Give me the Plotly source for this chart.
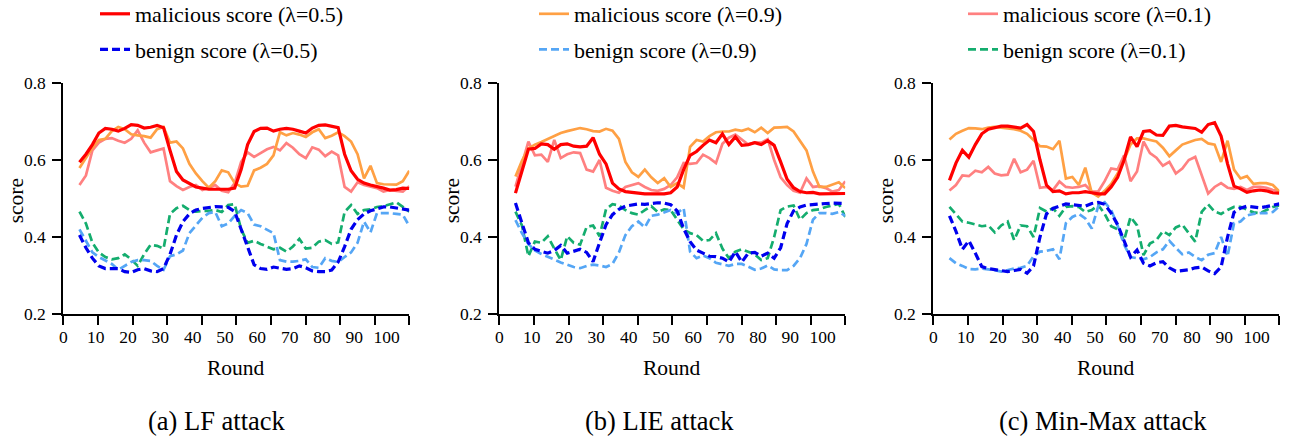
import plotly.graph_objects as go

rounds = list(range(5, 108, 2))  # 52 rounds

# ---------------- (a) LF attack ----------------
a_mal_05 = [.594, .615, .640, .670, .682, .680, .675, .682, .692, .690, .683, .685, .690, .684, .625, .570,
            .548, .540, .530, .527, .524, .524, .523, .524, .527, .575, .640, .674, .682, .683, .675, .680,
            .682, .680, .675, .670, .683, .690, .691, .688, .684, .615, .572, .550, .540, .535, .532, .527,
            .522, .523, .527, .526]
a_mal_09 = [.579, .605, .632, .652, .655, .675, .686, .680, .667, .664, .662, .658, .680, .686, .645, .648,
            .630, .590, .565, .545, .528, .545, .573, .568, .540, .531, .533, .573, .580, .590, .612, .672,
            .664, .670, .666, .660, .672, .680, .657, .663, .672, .662, .648, .615, .552, .585, .540, .537,
            .537, .536, .545, .572]
a_mal_01 = [.535, .560, .625, .645, .655, .657, .650, .645, .655, .677, .645, .620, .625, .630, .545, .532,
            .522, .530, .535, .522, .528, .535, .520, .516, .540, .595, .620, .608, .618, .628, .634, .625,
            .644, .632, .615, .605, .633, .627, .610, .622, .612, .530, .518, .542, .535, .530, .527, .518,
            .522, .520, .518, .532]
a_ben_05 = [.405, .372, .345, .325, .318, .318, .318, .310, .308, .315, .318, .312, .310, .318, .355, .405,
            .440, .460, .470, .474, .476, .479, .478, .477, .466, .420, .370, .328, .318, .316, .322, .320,
            .316, .318, .325, .320, .312, .310, .310, .314, .335, .375, .420, .445, .460, .468, .474, .478,
            .478, .475, .472, .470]
a_ben_09 = [.420, .390, .360, .348, .340, .330, .315, .325, .335, .340, .340, .338, .325, .315, .350, .355,
            .365, .410, .430, .450, .462, .465, .428, .435, .455, .470, .462, .432, .428, .420, .410, .340,
            .336, .336, .338, .342, .322, .320, .345, .338, .335, .348, .360, .385, .440, .412, .462, .462,
            .462, .460, .458, .428]
a_ben_01 = [.466, .435, .385, .360, .348, .342, .345, .355, .342, .325, .355, .380, .377, .370, .460, .475,
            .481, .470, .466, .468, .468, .470, .465, .483, .485, .420, .385, .390, .382, .375, .368, .372,
            .362, .375, .395, .370, .372, .388, .392, .382, .386, .465, .483, .460, .470, .472, .478, .480,
            .486, .490, .478, .466]

# ---------------- (b) LIE attack ----------------
b_mal_05 = [.514, .570, .628, .630, .642, .640, .628, .640, .642, .636, .634, .636, .658, .615, .590, .540,
            .525, .518, .515, .514, .512, .511, .512, .512, .515, .530, .575, .612, .622, .638, .652, .645,
            .668, .640, .660, .638, .640, .645, .640, .650, .638, .595, .550, .528, .518, .515, .516, .512,
            .512, .514, .514, .513]
b_mal_09 = [.557, .598, .630, .640, .647, .655, .662, .670, .675, .679, .683, .680, .675, .674, .681, .676,
            .655, .595, .568, .556, .575, .555, .540, .553, .530, .540, .528, .634, .652, .648, .662, .672,
            .674, .674, .679, .676, .681, .672, .684, .670, .684, .685, .686, .674, .650, .625, .570, .530,
            .530, .537, .542, .527]
b_mal_01 = [.531, .590, .648, .612, .614, .595, .652, .605, .615, .620, .618, .575, .570, .600, .528, .520,
            .515, .530, .535, .540, .530, .522, .520, .525, .535, .555, .592, .590, .592, .614, .605, .592,
            .642, .658, .666, .652, .640, .646, .645, .654, .600, .555, .535, .520, .515, .552, .530, .532,
            .527, .518, .522, .545]
b_ben_05 = [.488, .435, .385, .368, .362, .358, .365, .378, .358, .362, .368, .360, .336, .385, .432, .458,
            .472, .480, .484, .486, .485, .487, .489, .488, .484, .468, .422, .388, .366, .358, .350, .349,
            .345, .335, .362, .335, .358, .360, .350, .358, .345, .372, .435, .468, .478, .483, .485, .486,
            .487, .488, .488, .487]
b_ben_09 = [.444, .410, .382, .365, .356, .348, .340, .334, .328, .322, .319, .325, .328, .326, .322, .330,
            .360, .405, .428, .440, .425, .455, .458, .465, .470, .462, .475, .362, .345, .352, .345, .333,
            .328, .325, .330, .330, .323, .315, .318, .326, .316, .314, .314, .325, .345, .382, .445, .462,
            .462, .460, .465, .455]
b_ben_01 = [.466, .430, .350, .388, .385, .402, .370, .340, .402, .385, .380, .426, .430, .402, .472, .485,
            .482, .470, .462, .458, .470, .480, .465, .472, .470, .445, .420, .410, .405, .390, .392, .410,
            .370, .345, .362, .368, .362, .355, .340, .345, .400, .470, .479, .482, .445, .462, .470, .472,
            .478, .482, .486, .452]

# ---------------- (c) Min-Max attack ----------------
c_mal_05 = [.547, .592, .625, .607, .640, .668, .680, .684, .688, .688, .686, .683, .692, .674, .600, .535,
            .518, .520, .512, .515, .515, .518, .515, .512, .512, .530, .555, .600, .660, .635, .674, .676,
            .665, .664, .688, .690, .686, .683, .682, .672, .692, .697, .662, .590, .532, .525, .516, .520,
            .522, .520, .515, .514]
c_mal_09 = [.653, .668, .676, .683, .682, .680, .684, .686, .684, .682, .680, .676, .668, .652, .636, .635,
            .628, .650, .552, .556, .535, .580, .515, .505, .520, .538, .565, .600, .640, .656, .656, .652,
            .648, .632, .610, .625, .640, .646, .652, .655, .643, .640, .595, .650, .575, .552, .558, .538,
            .540, .540, .535, .518]
c_mal_01 = [.521, .535, .560, .558, .572, .568, .582, .565, .560, .562, .603, .568, .575, .598, .528, .530,
            .522, .544, .530, .528, .530, .535, .518, .518, .545, .578, .575, .612, .545, .570, .648, .618,
            .606, .585, .595, .565, .578, .600, .608, .560, .513, .530, .540, .528, .525, .530, .522, .530,
            .530, .528, .522, .520]
c_ben_05 = [.455, .415, .368, .390, .358, .323, .318, .315, .312, .310, .313, .316, .306, .325, .400, .460,
            .474, .480, .486, .484, .482, .480, .487, .490, .485, .462, .432, .388, .348, .366, .332, .325,
            .333, .336, .320, .311, .312, .315, .320, .322, .312, .305, .322, .400, .464, .475, .480, .479,
            .476, .479, .483, .486]
c_ben_09 = [.345, .332, .325, .317, .316, .318, .316, .314, .310, .315, .318, .320, .325, .350, .362, .364,
            .368, .342, .436, .452, .460, .448, .422, .480, .490, .470, .430, .380, .348, .345, .342, .348,
            .360, .368, .390, .372, .355, .360, .348, .340, .354, .358, .400, .350, .436, .440, .456, .460,
            .462, .462, .465, .480]
c_ben_01 = [.478, .458, .440, .437, .432, .428, .430, .412, .430, .440, .392, .430, .428, .400, .475, .466,
            .475, .455, .478, .480, .478, .465, .470, .483, .460, .428, .420, .392, .452, .430, .353, .383,
            .392, .415, .405, .425, .432, .410, .388, .465, .485, .466, .460, .470, .478, .478, .470, .464,
            .462, .470, .478, .482]

x_labels = [0, 10, 20, 30, 40, 50, 60, 70, 80, 90, 100]
y_ticks = [0.2, 0.4, 0.6, 0.8]
captions = ["(a) LF attack", "(b) LIE attack", "(c) Min-Max attack"]

panels = [
    dict(mal={0.5: a_mal_05, 0.9: a_mal_09, 0.1: a_mal_01}, ben={0.5: a_ben_05, 0.9: a_ben_09, 0.1: a_ben_01}, lam=0.5),
    dict(mal={0.5: b_mal_05, 0.9: b_mal_09, 0.1: b_mal_01}, ben={0.5: b_ben_05, 0.9: b_ben_09, 0.1: b_ben_01}, lam=0.9),
    dict(mal={0.5: c_mal_05, 0.9: c_mal_09, 0.1: c_mal_01}, ben={0.5: c_ben_05, 0.9: c_ben_09, 0.1: c_ben_01}, lam=0.1),
]

mal_color = {0.5: "#FF0000", 0.9: "#FFA044", 0.1: "#FF8080"}
ben_color = {0.5: "#0000EE", 0.9: "#55A6F5", 0.1: "#14AD6E"}
width = {0.5: 3.2, 0.9: 2.7, 0.1: 2.7}

FONT = "Liberation Serif, Times New Roman, serif"
W, H = 1296, 436
x_dom = [(63.3, 409.3), (499.3, 845.3), (933.3, 1279.3)]
y_dom = (1 - 314 / H, 1 - 83 / H)
legend_x = [95, 534, 963]
caption_x = [217, 659, 1103]
legend_names = ["legend", "legend2", "legend3"]

fig = go.Figure()
draw_order = [0.1, 0.9, 0.5]
for p, panel in enumerate(panels):
    xa = "x" if p == 0 else f"x{p+1}"
    ya = "y" if p == 0 else f"y{p+1}"
    for lam in draw_order:
        show = lam == panel["lam"]
        fig.add_trace(go.Scatter(
            x=rounds, y=panel["mal"][lam], mode="lines",
            line=dict(color=mal_color[lam], width=width[lam]),
            name=f"malicious score (λ={lam})", showlegend=show,
            legend=legend_names[p], legendgroup=f"m{p}{lam}", legendrank=1,
            xaxis=xa, yaxis=ya))
    for lam in draw_order:
        show = lam == panel["lam"]
        fig.add_trace(go.Scatter(
            x=rounds, y=panel["ben"][lam], mode="lines",
            line=dict(color=ben_color[lam], width=width[lam], dash="8px,4px"),
            name=f"benign score (λ={lam})", showlegend=show,
            legend=legend_names[p], legendgroup=f"b{p}{lam}", legendrank=2,
            xaxis=xa, yaxis=ya))

layout = dict(
    width=W, height=H, margin=dict(l=0, r=0, t=0, b=0, autoexpand=False),
    paper_bgcolor="white", plot_bgcolor="white",
    font=dict(family=FONT, color="black", size=17),
    showlegend=True,
)
minor_vals = [0.001] + [107 * k / 10 for k in range(1, 10)] + [106.999]
for p in range(3):
    xk = "xaxis" if p == 0 else f"xaxis{p+1}"
    yk = "yaxis" if p == 0 else f"yaxis{p+1}"
    layout[xk] = dict(
        domain=[x_dom[p][0] / W, x_dom[p][1] / W], range=[0, 107],
        anchor="y" if p == 0 else f"y{p+1}",
        showline=True, linecolor="black", linewidth=2, showgrid=False, zeroline=False,
        tickmode="array", tickvals=x_labels, ticktext=[str(v) for v in x_labels],
        ticks="outside", ticklen=0, ticklabelstandoff=6,
        minor=dict(tickmode="array", tickvals=minor_vals, ticks="outside", ticklen=9, tickwidth=2, tickcolor="black", showgrid=False),
        tickfont=dict(size=17.5, family=FONT), fixedrange=True, automargin=False,
    )
    layout[yk] = dict(
        domain=list(y_dom), range=[0.2, 0.8],
        anchor="x" if p == 0 else f"x{p+1}",
        showline=True, linecolor="black", linewidth=2, showgrid=False, zeroline=False,
        tickmode="array", tickvals=y_ticks, ticktext=[f"{v:.1f}" for v in y_ticks],
        ticks="outside", ticklen=9, tickwidth=2, tickcolor="black", ticklabelstandoff=3,
        tickfont=dict(size=17.5, family=FONT), fixedrange=True, automargin=False,
    )
    layout[legend_names[p]] = dict(
        x=legend_x[p] / W, y=1 + 7 / H, xanchor="left", yanchor="top",
        bgcolor="rgba(0,0,0,0)", borderwidth=0, tracegroupgap=4,
        font=dict(size=22, family=FONT, color="black"),
    )

annotations = []
for p in range(3):
    cx = (x_dom[p][0] + x_dom[p][1]) / 2
    annotations.append(dict(text="Round", x=cx / W, y=1 - 368 / H, xref="paper", yref="paper",
                            showarrow=False, font=dict(size=21.5, family=FONT), xanchor="center", yanchor="middle"))
    annotations.append(dict(text="score", x=(x_dom[p][0] - 47) / W, y=1 - 201 / H, xref="paper", yref="paper",
                            showarrow=False, textangle=-90, font=dict(size=21.5, family=FONT),
                            xanchor="center", yanchor="middle"))
    annotations.append(dict(text=captions[p], x=caption_x[p] / W, y=1 - 421 / H, xref="paper", yref="paper",
                            showarrow=False, font=dict(size=26.5, family=FONT), xanchor="center", yanchor="middle"))
layout["annotations"] = annotations

fig.update_layout(**layout)
fig.write_html("out.html")
